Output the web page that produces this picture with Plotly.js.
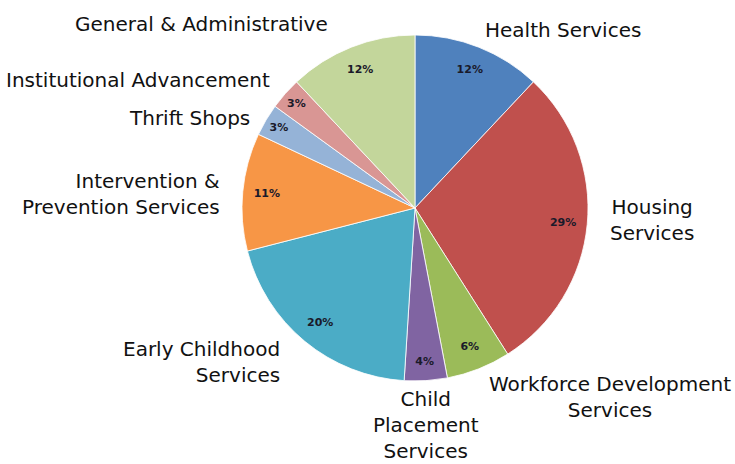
<!DOCTYPE html>
<html>
<head>
<meta charset="utf-8">
<script src="https://cdn.plot.ly/plotly-3.0.1.min.js"></script>
<style>html,body{margin:0;padding:0;background:#fff;}#chart{width:735px;height:464px;}</style>
</head>
<body>
<div id="chart"></div>
<script>
const categories = [
  "Health Services",
  "Housing Services",
  "Workforce Development Services",
  "Child Placement Services",
  "Early Childhood Services",
  "Intervention & Prevention Services",
  "Thrift Shops",
  "Institutional Advancement",
  "General & Administrative"
];
const displayLabels = [
  "Health Services",
  "Housing<br>Services",
  "Workforce Development<br>Services",
  "Child<br>Placement<br>Services",
  "Early Childhood<br>Services",
  "Intervention &<br>Prevention Services",
  "Thrift Shops",
  "Institutional Advancement",
  "General & Administrative"
];
const percentages = [12, 29, 6, 4, 20, 11, 3, 3, 12];
const colors = ["#4F81BD", "#C0504D", "#9BBB59", "#8064A2", "#4BACC6", "#F79646", "#95B3D7", "#D99694", "#C3D69B"];

// label placement (pixels) - layout only
const labelPos = [
  {x: 563, y: 30, xa: "center", al: "center"},
  {x: 652, y: 220, xa: "center", al: "center"},
  {x: 610, y: 397, xa: "center", al: "center"},
  {x: 426, y: 425, xa: "center", al: "center"},
  {x: 282, y: 362, xa: "right", al: "right"},
  {x: 222, y: 194, xa: "right", al: "right"},
  {x: 252, y: 118, xa: "right", al: "right"},
  {x: 272, y: 80, xa: "right", al: "right"},
  {x: 330, y: 24, xa: "right", al: "right"}
];
const W = 735, H = 464;
const annotations = displayLabels.map((t, i) => ({
  text: t, xref: "paper", yref: "paper",
  x: labelPos[i].x / W, y: 1 - labelPos[i].y / H,
  xanchor: labelPos[i].xa, yanchor: "middle", align: labelPos[i].al,
  showarrow: false,
  font: {family: "DejaVu Sans", size: 20, color: "#111"}
}));

const cx = 415, cy = 208, r = 173;
const dom = {x: [(cx - r) / W, (cx + r) / W], y: [1 - (cy + r) / H, 1 - (cy - r) / H]};
Plotly.newPlot("chart", [{
  type: "pie",
  labels: categories,
  values: percentages,
  sort: false,
  direction: "clockwise",
  rotation: 0,
  marker: {colors: colors, line: {color: "rgba(255,255,255,0.8)", width: 1}},
  textinfo: "none",
  domain: dom,
  showlegend: false
}, {
  type: "pie",
  labels: categories,
  values: percentages,
  sort: false,
  direction: "clockwise",
  rotation: 0,
  hole: 0.72,
  marker: {colors: categories.map(() => "rgba(0,0,0,0)"), line: {width: 0}},
  texttemplate: "%{value}%",
  textposition: "inside",
  insidetextorientation: "horizontal",
  textfont: {family: "DejaVu Sans", size: 11, color: "#1a1a2a", weight: "bold"},
  domain: dom,
  showlegend: false
}], {
  width: W, height: H,
  margin: {l: 0, r: 0, t: 0, b: 0},
  paper_bgcolor: "#ffffff",
  annotations: annotations,
  showlegend: false
}, {displayModeBar: false, staticPlot: true});
</script>
</body>
</html>
